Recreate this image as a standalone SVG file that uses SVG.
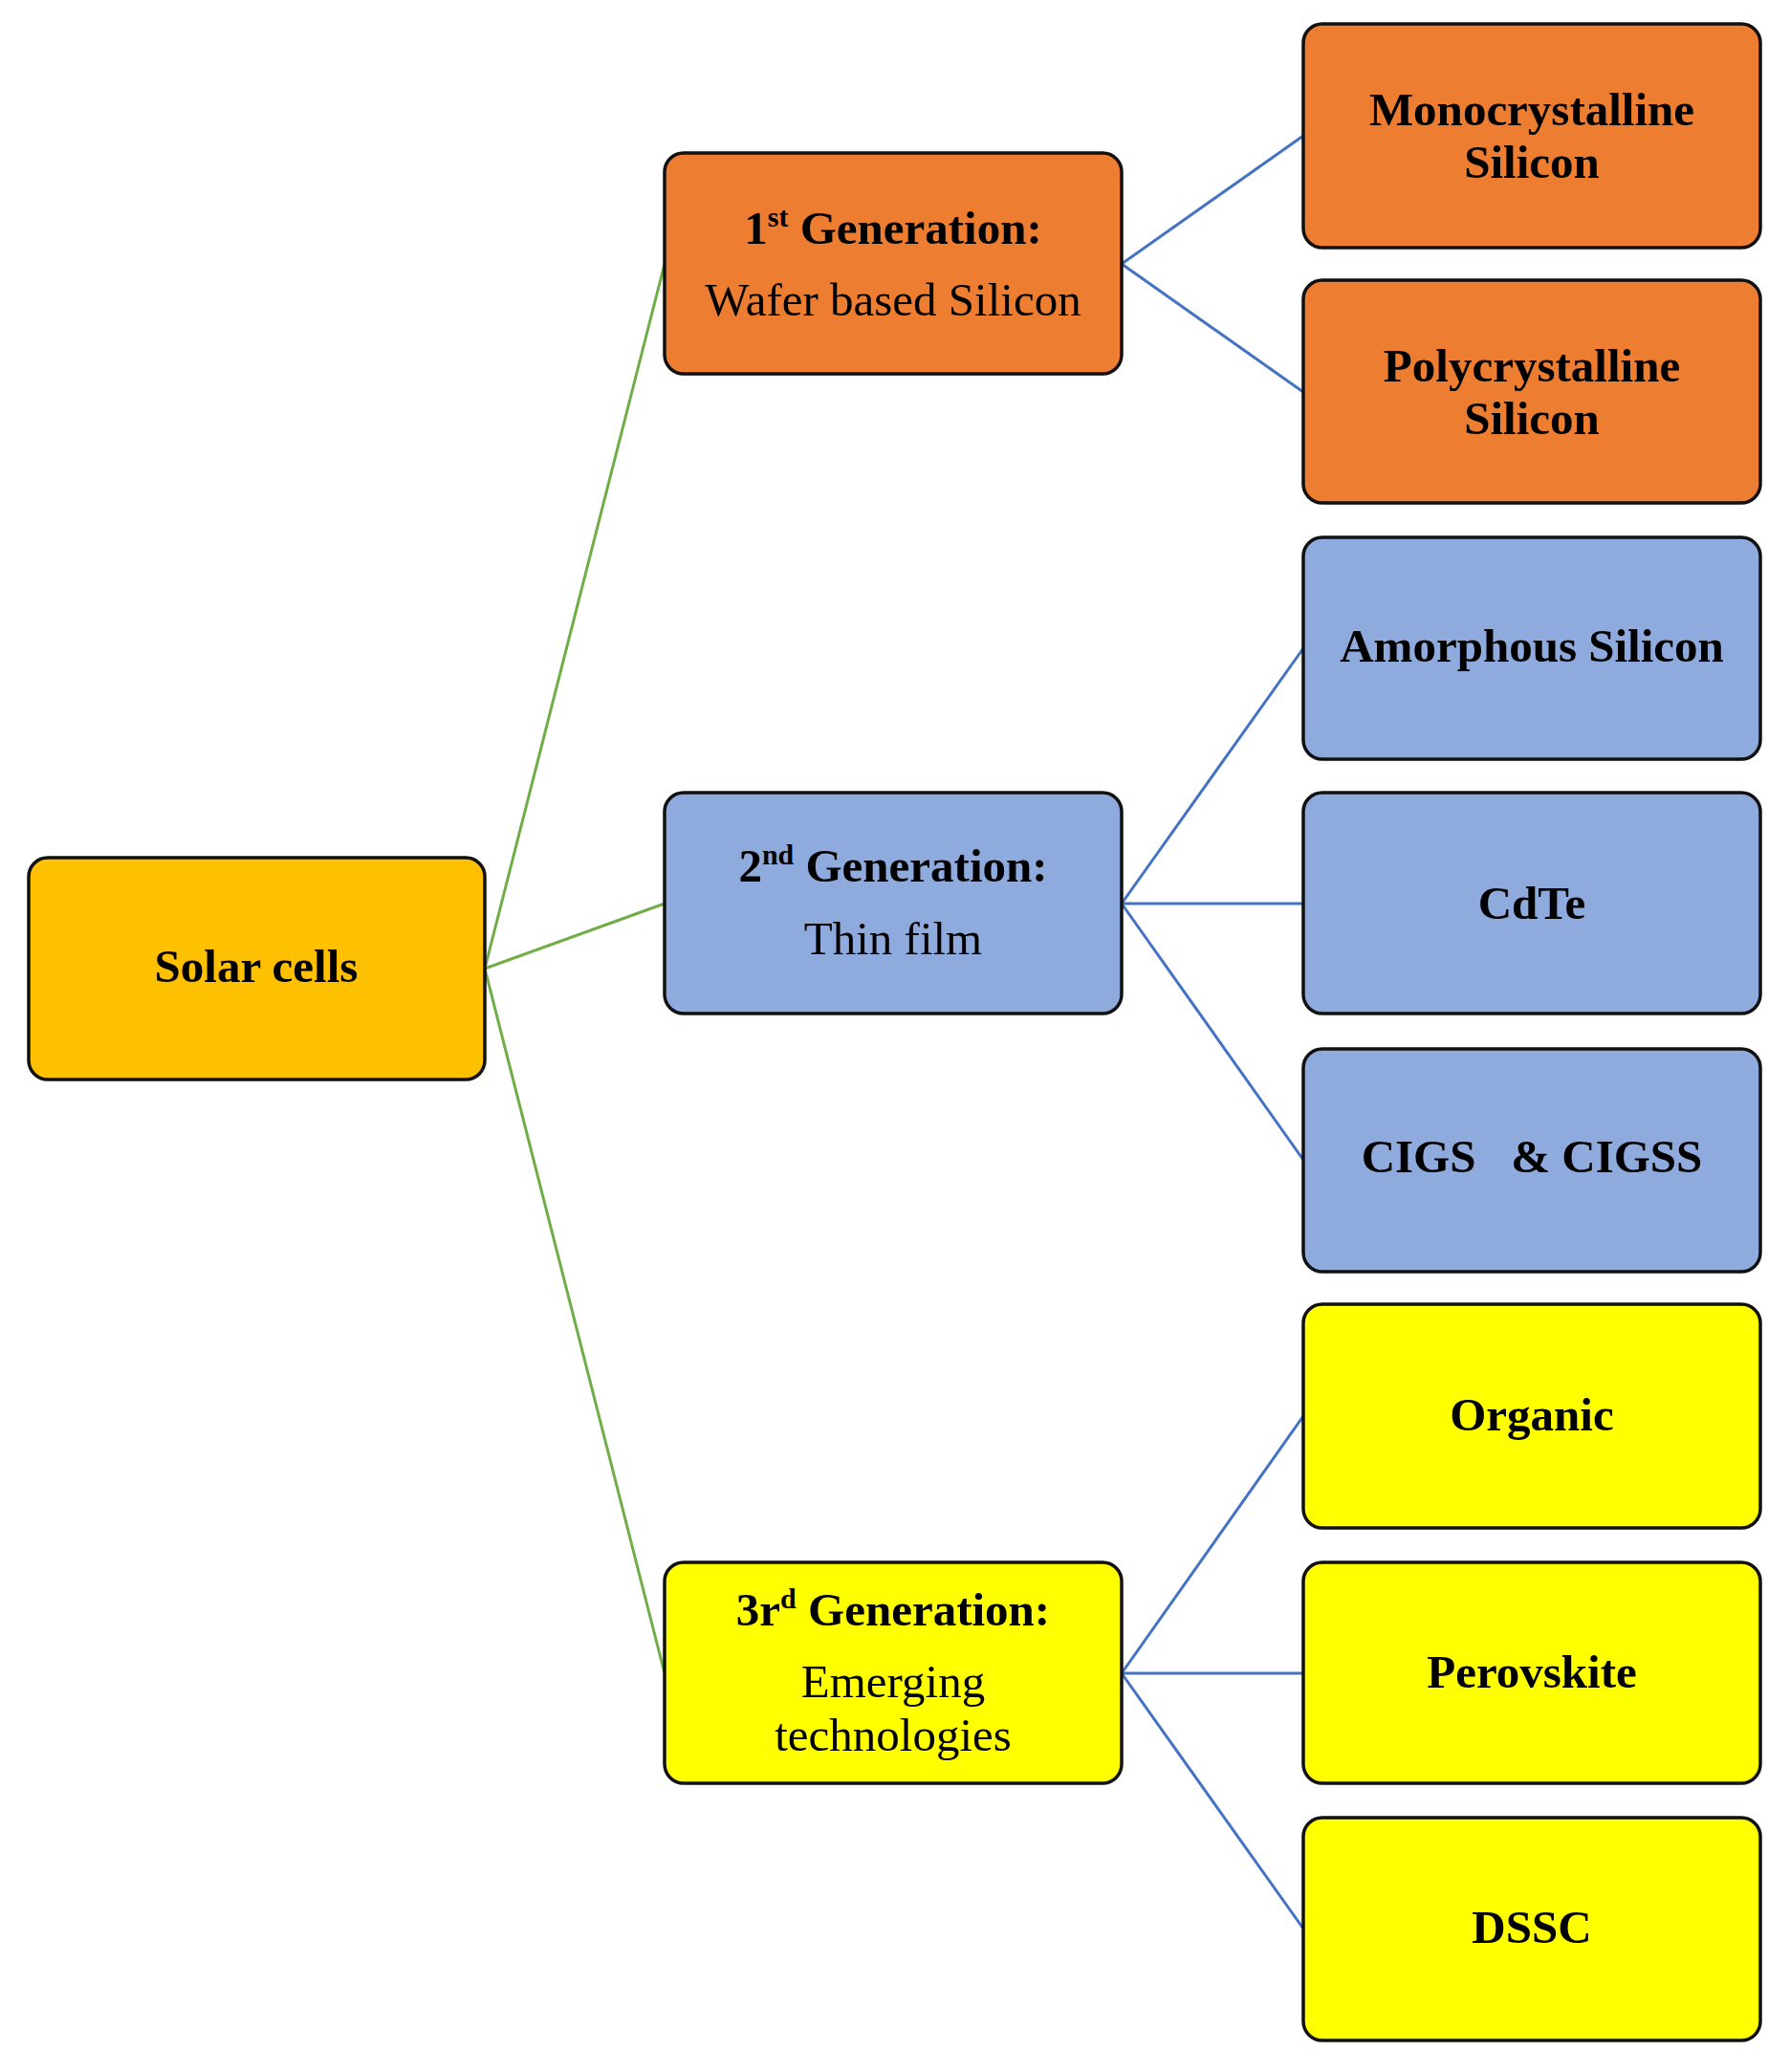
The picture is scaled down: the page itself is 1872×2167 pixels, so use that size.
<svg xmlns="http://www.w3.org/2000/svg" width="1872" height="2167" viewBox="0 0 1872 2167">
<style>
.b{stroke:#111;stroke-width:3.5}
.o{fill:#ED7D31}.bl{fill:#8FAADC}.y{fill:#FFFF00}.g{fill:#FFC000}
text{font-family:"Liberation Serif","Times New Roman",serif;font-size:49px;fill:#000;text-anchor:middle}
.t{font-weight:bold}
.gl{stroke:#70AD47;stroke-width:3;fill:none}
.bll{stroke:#4472C4;stroke-width:3;fill:none}
</style>
<rect width="1872" height="2167" fill="#fff"/>
<g id="connectors">
<path class="gl" d="M507 1013L695 276M507 1013L695 945M507 1013L695 1750"/>
<path class="bll" d="M1173 276L1363 142M1173 276L1363 410M1173 945L1363 678M1173 945L1363 945M1173 945L1363 1213M1173 1750L1363 1481M1173 1750L1363 1750M1173 1750L1363 2017"/>
</g>
<g id="solar"><rect class="b g" x="30" y="897" width="477" height="232" rx="20"/><text class="t" x="268" y="1027">Solar cells</text></g>
<g id="gen1"><rect class="b o" x="695" y="160" width="478" height="231" rx="20"/><text class="t" x="934" y="255">1<tspan font-size="30" dy="-18">st</tspan><tspan dy="18"> Generation:</tspan></text><text x="934" y="330">Wafer based Silicon</text></g>
<g id="gen2"><rect class="b bl" x="695" y="829" width="478" height="231" rx="20"/><text class="t" x="934" y="922">2<tspan font-size="30" dy="-18">nd</tspan><tspan dy="18"> Generation:</tspan></text><text x="934" y="998">Thin film</text></g>
<g id="gen3"><rect class="b y" x="695" y="1634" width="478" height="231" rx="20"/><text class="t" x="934" y="1700">3r<tspan font-size="30" dy="-18">d</tspan><tspan dy="18"> Generation:</tspan></text><text x="934" y="1775">Emerging</text><text x="934" y="1831">technologies</text></g>
<g id="mono"><rect class="b o" x="1363" y="25" width="478" height="234" rx="20"/><text class="t" x="1602" y="131">Monocrystalline</text><text class="t" x="1602" y="186">Silicon</text></g>
<g id="poly"><rect class="b o" x="1363" y="293" width="478" height="233" rx="20"/><text class="t" x="1602" y="399">Polycrystalline</text><text class="t" x="1602" y="454">Silicon</text></g>
<g id="amorph"><rect class="b bl" x="1363" y="562" width="478" height="232" rx="20"/><text class="t" x="1602" y="692">Amorphous Silicon</text></g>
<g id="cdte"><rect class="b bl" x="1363" y="829" width="478" height="231" rx="20"/><text class="t" x="1602" y="961">CdTe</text></g>
<g id="cigs"><rect class="b bl" x="1363" y="1097" width="478" height="233" rx="20"/><text class="t" x="1602" y="1226" xml:space="preserve">CIGS   &amp; CIGSS</text></g>
<g id="organic"><rect class="b y" x="1363" y="1364" width="478" height="234" rx="20"/><text class="t" x="1602" y="1496">Organic</text></g>
<g id="perov"><rect class="b y" x="1363" y="1634" width="478" height="231" rx="20"/><text class="t" x="1602" y="1765">Perovskite</text></g>
<g id="dssc"><rect class="b y" x="1363" y="1901" width="478" height="233" rx="20"/><text class="t" x="1602" y="2032">DSSC</text></g>
</svg>
